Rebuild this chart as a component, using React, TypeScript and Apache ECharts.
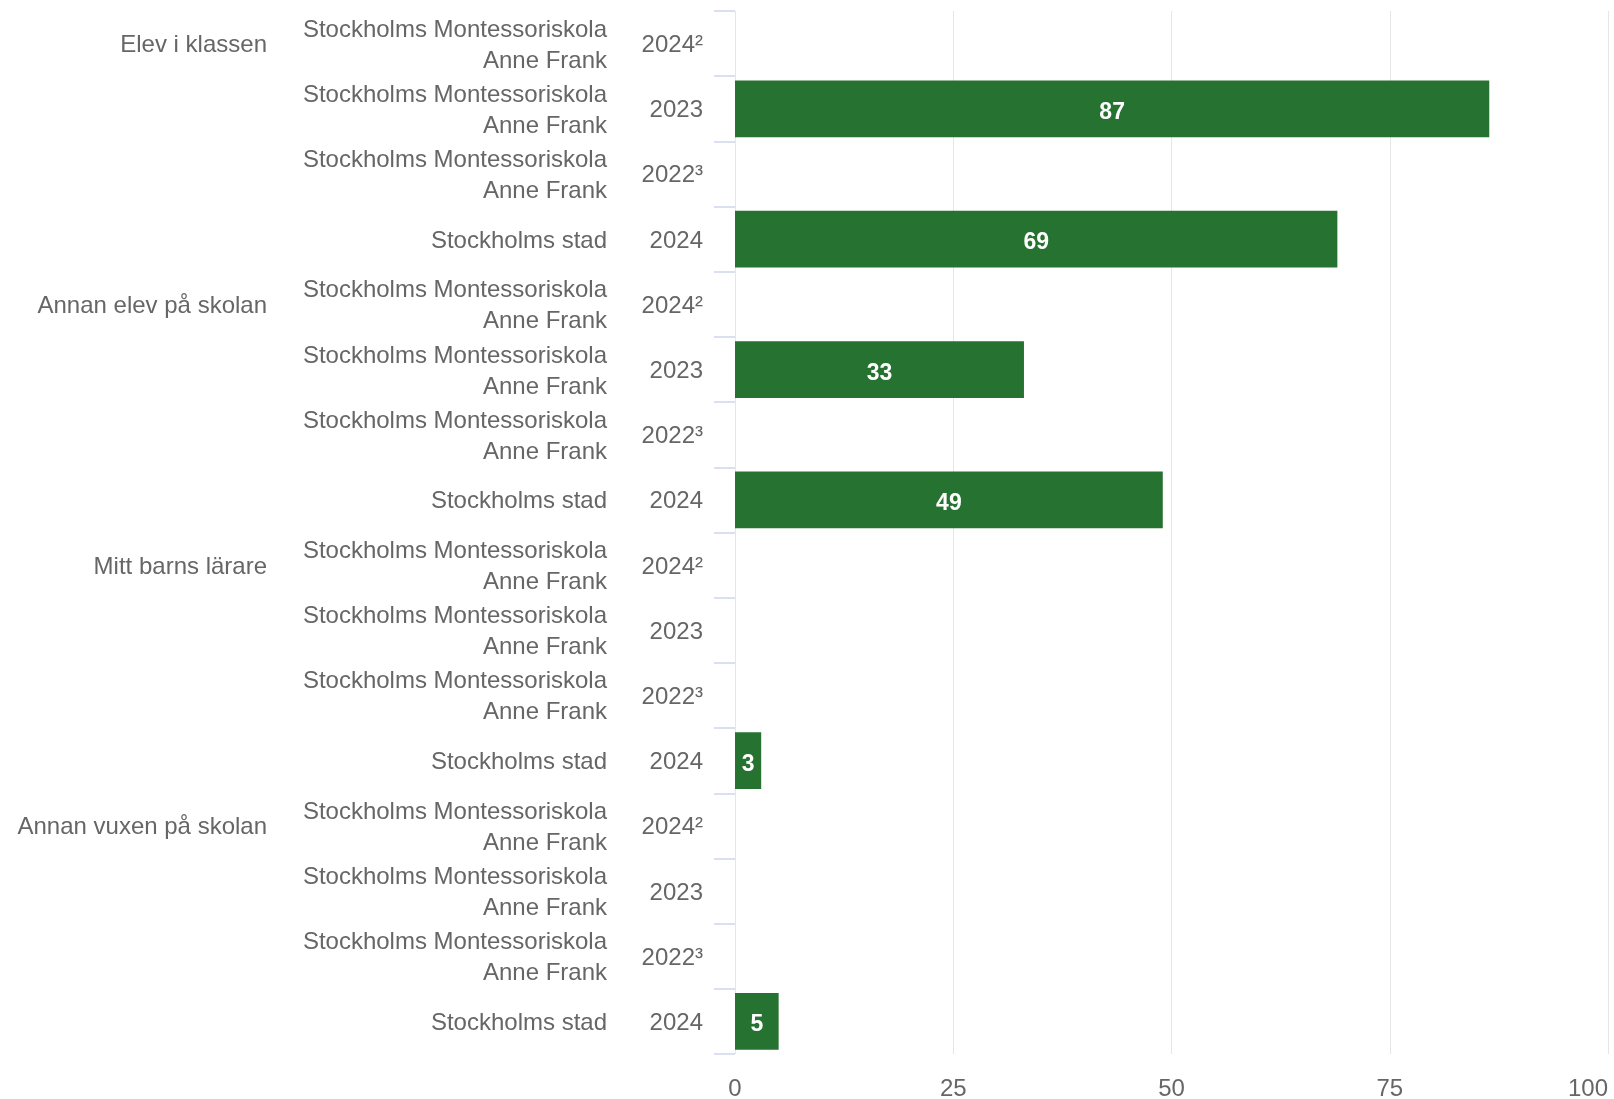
import React, { useEffect, useRef } from "react";
import * as echarts from "echarts";

const groupLabels = [
  "Elev i klassen", "", "", "",
  "Annan elev på skolan", "", "", "",
  "Mitt barns lärare", "", "", "",
  "Annan vuxen på skolan", "", "", "",
];
const unitLabels = [
  "Stockholms Montessoriskola\nAnne Frank", "Stockholms Montessoriskola\nAnne Frank", "Stockholms Montessoriskola\nAnne Frank", "Stockholms stad",
  "Stockholms Montessoriskola\nAnne Frank", "Stockholms Montessoriskola\nAnne Frank", "Stockholms Montessoriskola\nAnne Frank", "Stockholms stad",
  "Stockholms Montessoriskola\nAnne Frank", "Stockholms Montessoriskola\nAnne Frank", "Stockholms Montessoriskola\nAnne Frank", "Stockholms stad",
  "Stockholms Montessoriskola\nAnne Frank", "Stockholms Montessoriskola\nAnne Frank", "Stockholms Montessoriskola\nAnne Frank", "Stockholms stad",
];
const yearLabels = [
  "2024²", "2023", "2022³", "2024",
  "2024²", "2023", "2022³", "2024",
  "2024²", "2023", "2022³", "2024",
  "2024²", "2023", "2022³", "2024",
];
const values: (number | null)[] = [
  null, 86.4, null, 69,
  null, 33.1, null, 49,
  null, null, null, 3,
  null, null, null, 5,
];
const valueLabels: string[] = [
  "", "87", "", "69",
  "", "33", "", "49",
  "", "", "", "3",
  "", "", "", "5",
];
const xTicks = { min: 0, max: 100, interval: 25 };

const FONT = "'Liberation Sans', Arial, Helvetica, sans-serif";
const TEXT = "#666666";

export default function App() {
  const ref = useRef<HTMLDivElement>(null);
  useEffect(() => {
    document.body.style.margin = "0";
    const chart = echarts.init(ref.current!, null, { renderer: "svg" });
    const hiddenAxis = {
      axisLine: { show: false },
      axisTick: { show: false },
      splitLine: { show: false },
    };
    chart.setOption({
      animation: false,
      textStyle: { fontFamily: FONT },
      grid: { left: 735, right: 6, top: 11, bottom: 40, containLabel: false },
      xAxis: {
        type: "value",
        min: xTicks.min,
        max: xTicks.max,
        interval: xTicks.interval,
        axisLine: { show: false },
        axisTick: { show: false },
        splitLine: { show: true, lineStyle: { color: "#e6e6e6", width: 1 } },
        axisLabel: {
          fontSize: 24,
          color: TEXT,
          fontFamily: FONT,
          margin: 21,
          alignMaxLabel: "right",
        },
      },
      yAxis: [
        {
          type: "category",
          data: yearLabels,
          inverse: true,
          position: "left",
          axisLine: { show: false },
          axisTick: {
            show: true,
            length: 21,
            alignWithLabel: false,
            lineStyle: { color: "#ccd6eb", width: 1.5 },
          },
          splitLine: { show: false },
          axisLabel: {
            fontSize: 24,
            color: TEXT,
            fontFamily: FONT,
            margin: 32,
            align: "right",
          },
        },
        {
          type: "category",
          data: unitLabels,
          inverse: true,
          position: "left",
          ...hiddenAxis,
          axisLabel: {
            fontSize: 24,
            color: TEXT,
            fontFamily: FONT,
            margin: 128,
            align: "right",
            lineHeight: 31,
          },
        },
        {
          type: "category",
          data: groupLabels,
          inverse: true,
          position: "left",
          ...hiddenAxis,
          axisLabel: {
            fontSize: 24,
            color: TEXT,
            fontFamily: FONT,
            margin: 468,
            align: "right",
          },
        },
      ],
      series: [
        {
          type: "bar",
          yAxisIndex: 0,
          data: values,
          barCategoryGap: "13%",
          itemStyle: { color: "#267230" },
          label: {
            show: true,
            position: "inside",
            color: "#ffffff",
            fontSize: 23,
            fontWeight: "bold",
            fontFamily: FONT,
            offset: [0, 2],
            formatter: (p: any) => valueLabels[p.dataIndex],
          },
        },
      ],
    });
    return () => chart.dispose();
  }, []);
  return (
    <div
      ref={ref}
      style={{ position: "fixed", left: 0, top: 0, width: 1614, height: 1099 }}
    />
  );
}
